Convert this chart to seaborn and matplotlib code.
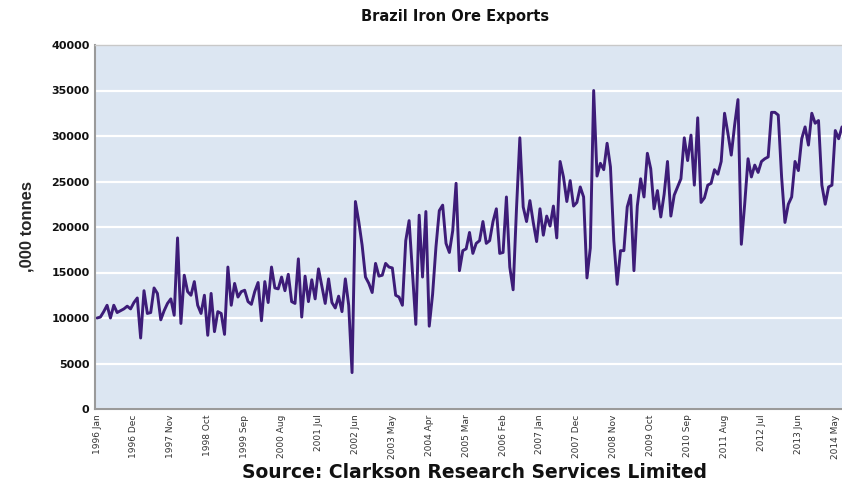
import matplotlib
matplotlib.use("Agg")
import matplotlib.pyplot as plt
import seaborn as sns
import pandas as pd

# Brazil iron ore exports, '000 tonnes, monthly from 1996 Jan
exports = [
    10000, 10100, 10700, 11400, 10000, 11400, 10600, 10800, 11000, 11300,
    11000, 11700, 12200, 7800, 13000, 10500, 10600, 13300, 12700, 9800,
    10800, 11600, 12100, 10300, 18800, 9400, 14700, 12900, 12500, 14000,
    11400, 10500, 12500, 8100, 12700, 8500, 10700, 10500, 8200, 15600,
    11400, 13800, 12300, 12900, 13050, 11800, 11500, 12900, 13900, 9700,
    14000, 11700, 15600, 13300, 13200, 14500, 13000, 14800, 11800, 11600,
    16500, 10100, 14600, 11800, 14200, 12100, 15400, 13500, 11600, 14300,
    11700, 11100, 12400, 10700, 14300, 11400, 4000, 22800, 20600, 18000,
    14500, 13800, 12800, 16000, 14600, 14700, 16000, 15600, 15500, 12500,
    12300, 11400, 18500, 20700, 15000, 9300, 21300, 14500, 21700, 9100,
    12600, 17800, 21800, 22400, 18200, 17200, 19600, 24800, 15200, 17400,
    17600, 19400, 17100, 18200, 18500, 20600, 18200, 18500, 20600, 22000,
    17100, 17200, 23300, 15600, 13100, 22000, 29800, 22200, 20600, 22900,
    20500, 18400, 22000, 19100, 21200, 20100, 22300, 18800, 27200, 25500,
    22800, 25100, 22300, 22700, 24400, 23300, 14400, 17700, 35000, 25600,
    27000, 26300, 29200, 26600, 18500, 13700, 17400, 17400, 22200, 23500,
    15200, 22300, 25300, 23300, 28100, 26400, 22000, 24000, 21100, 23600,
    27200, 21200, 23500, 24400, 25300, 29800, 27300, 30100, 24600, 32000,
    22700, 23200, 24600, 24800, 26300, 25800, 27200, 32500, 30300, 27900,
    31200, 34000, 18100, 22500, 27500, 25500, 26800, 26000, 27200, 27500,
    27700, 32600, 32600, 32300, 25500, 20500, 22500, 23300, 27200, 26200,
    29700, 31000, 29000, 32500, 31400, 31700, 24600, 22500, 24400, 24600,
    30600, 29700, 31000,
]
months = pd.date_range("1996-01-01", periods=len(exports), freq="MS")
tick_idx = list(range(0, 221, 11))
tick_labels = [months[i].strftime("%Y %b") for i in tick_idx]
y_ticks = list(range(0, 40001, 5000))

df = pd.DataFrame({"idx": range(len(exports)), "exports": exports})

sns.set_style("white")
fig = plt.figure(figsize=(8.42, 4.82), dpi=100)
ax = fig.add_axes([95 / 842, 1 - 409 / 482, 747 / 842, 364 / 482])

sns.lineplot(data=df, x="idx", y="exports", color="#3d1c78",
             linewidth=2.1, ax=ax)

ax.set_facecolor("#dce6f2")
ax.set_ylim(0, 40000)
ax.set_xlim(-0.6, 222)
ax.set_yticks(y_ticks)
ax.set_yticklabels([str(v) for v in y_ticks], fontsize=8,
                   fontweight="bold", color="#111111")
ax.set_xticks(tick_idx)
ax.set_xticklabels(tick_labels, rotation=90, fontsize=6.5, color="#333333")
ax.tick_params(axis="both", length=0, pad=4)
ax.grid(axis="y", color="white", linewidth=1.6)
ax.grid(axis="x", visible=False)
ax.set_axisbelow(True)

for side in ["left", "bottom"]:
    ax.spines[side].set_color("#9a9a9a")
    ax.spines[side].set_linewidth(1.5)
ax.spines["top"].set_color("#c8c8c8")
ax.spines["top"].set_linewidth(1.0)
ax.spines["right"].set_visible(False)

ax.set_xlabel("")
ax.set_ylabel(",000 tonnes", fontsize=12, fontweight="bold",
              family=["Liberation Sans Narrow", "Liberation Sans", "DejaVu Sans"],
              labelpad=12)

fig.text(455 / 842, 1 - 17 / 482, "Brazil Iron Ore Exports", ha="center",
         va="center", fontsize=10.5, fontweight="bold", color="#111111")
fig.text(475 / 842, 1 - 472 / 482, "Source: Clarkson Research Services Limited",
         ha="center", va="center", fontsize=13.5, fontweight="bold",
         color="#111111")

fig.savefig("out.png", dpi=100)
